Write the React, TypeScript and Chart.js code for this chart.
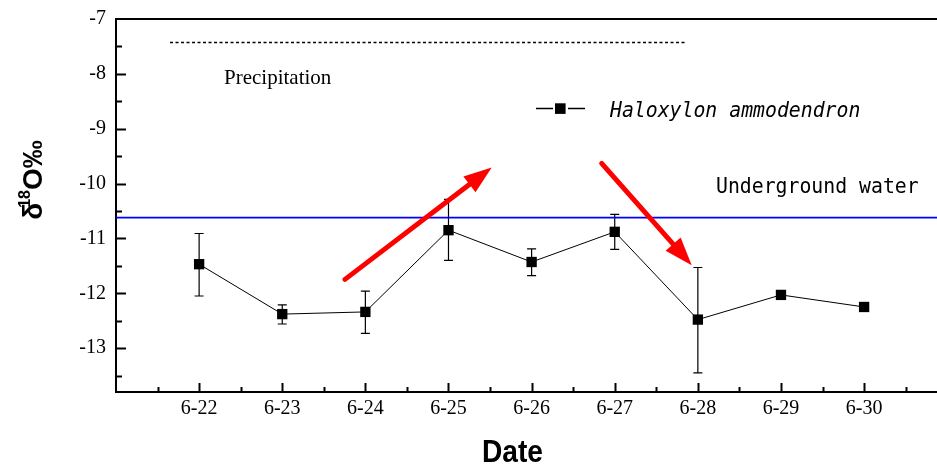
import React, { useEffect, useRef } from "react";
import { Chart, registerables } from "chart.js";

Chart.register(...registerables);

// ---- data ----
const dates = [22, 23, 24, 25, 26, 27, 28, 29, 30];
const dateLabels = ["6-22", "6-23", "6-24", "6-25", "6-26", "6-27", "6-28", "6-29", "6-30"];
const haloxylonValues = [-11.47, -12.38, -12.34, -10.85, -11.43, -10.88, -12.48, -12.03, -12.25];
const errorUpper = [-10.91, -12.21, -11.96, -10.29, -11.19, -10.56, -11.53, -11.97, -12.23];
const errorLower = [-12.05, -12.56, -12.73, -11.40, -11.68, -11.20, -13.45, -12.09, -12.27];
const undergroundWater = -10.62;
const undergroundSpan = [20.5, 31.5];
const precipitation = -7.43;
const precipitationSpan = [21.65, 27.86];
const yTickValues = [-7, -8, -9, -10, -11, -12, -13];
const yRange = [-13.8, -7];
const xRange = [21, 30.877];
const arrowUp = [[23.755, -11.747], [25.52, -9.705]];
const arrowDown = [[26.843, -9.632], [27.926, -11.487]];

const SERIES_NAME = "Haloxylon ammodendron";
const WATER_NAME = "Underground water";
const PRECIP_NAME = "Precipitation";

function drawScaledText(
  ctx: CanvasRenderingContext2D,
  text: string,
  x: number,
  y: number,
  font: string,
  sx: number,
  align: "left" | "center" = "left"
) {
  ctx.save();
  ctx.font = font;
  ctx.textBaseline = "alphabetic";
  ctx.textAlign = "left";
  const w = ctx.measureText(text).width * sx;
  const left = align === "center" ? x - w / 2 : x;
  ctx.translate(left, y);
  ctx.scale(sx, 1);
  ctx.fillText(text, 0, 0);
  ctx.restore();
}

const decorPlugin = {
  id: "decor",
  beforeDatasetsDraw(chart: any) {
    const ctx = chart.ctx as CanvasRenderingContext2D;
    const xs = chart.scales.x;
    const ys = chart.scales.y;
    ctx.save();
    ctx.strokeStyle = "#000";
    ctx.lineWidth = 1.2;
    dates.forEach((d, i) => {
      const px = xs.getPixelForValue(d);
      const pt = ys.getPixelForValue(errorUpper[i]);
      const pb = ys.getPixelForValue(errorLower[i]);
      ctx.beginPath();
      ctx.moveTo(px, pt);
      ctx.lineTo(px, pb);
      ctx.moveTo(px - 4.5, pt);
      ctx.lineTo(px + 4.5, pt);
      ctx.moveTo(px - 4.5, pb);
      ctx.lineTo(px + 4.5, pb);
      ctx.stroke();
    });
    ctx.restore();
  },
  afterDatasetsDraw(chart: any) {
    const ctx = chart.ctx as CanvasRenderingContext2D;
    const xs = chart.scales.x;
    const ys = chart.scales.y;
    const drawArrow = (a: number[][]) => {
      const x1 = xs.getPixelForValue(a[0][0]);
      const y1 = ys.getPixelForValue(a[0][1]);
      const x2 = xs.getPixelForValue(a[1][0]);
      const y2 = ys.getPixelForValue(a[1][1]);
      const ang = Math.atan2(y2 - y1, x2 - x1);
      const headLen = 28;
      const headHalf = 10;
      const bx = x2 - Math.cos(ang) * headLen;
      const by = y2 - Math.sin(ang) * headLen;
      ctx.save();
      ctx.strokeStyle = "#ff0000";
      ctx.fillStyle = "#ff0000";
      ctx.lineWidth = 5;
      ctx.lineCap = "round";
      ctx.beginPath();
      ctx.moveTo(x1, y1);
      ctx.lineTo(bx + Math.cos(ang) * 4, by + Math.sin(ang) * 4);
      ctx.stroke();
      ctx.beginPath();
      ctx.moveTo(x2, y2);
      ctx.lineTo(bx + Math.cos(ang + Math.PI / 2) * headHalf, by + Math.sin(ang + Math.PI / 2) * headHalf);
      ctx.lineTo(bx - Math.cos(ang + Math.PI / 2) * headHalf, by - Math.sin(ang + Math.PI / 2) * headHalf);
      ctx.closePath();
      ctx.fill();
      ctx.restore();
    };
    drawArrow(arrowUp);
    drawArrow(arrowDown);
  },
  afterDraw(chart: any) {
    const ctx = chart.ctx as CanvasRenderingContext2D;
    const xs = chart.scales.x;
    const ys = chart.scales.y;
    const area = chart.chartArea;
    ctx.save();
    ctx.strokeStyle = "#000";
    // top border
    ctx.lineWidth = 2;
    ctx.beginPath();
    ctx.moveTo(area.left - 1, area.top);
    ctx.lineTo(area.right, area.top);
    ctx.stroke();
    // inward ticks
    ctx.lineWidth = 2;
    for (let v = yRange[0]; v <= yRange[1] + 1e-6; v += 0.1) {
      const r = Math.round(v * 2) / 2;
      if (Math.abs(r - v) > 1e-6) continue;
      const len = Number.isInteger(r) ? 10 : 6;
      const py = Math.round(ys.getPixelForValue(r)) + 0.5;
      if (py < area.top + 1 || py > area.bottom - 1) continue;
      ctx.beginPath();
      ctx.moveTo(area.left, py);
      ctx.lineTo(area.left + len, py);
      ctx.stroke();
    }
    for (let v = Math.ceil(xRange[0] * 2) / 2; v <= xRange[1]; v += 0.5) {
      const px = Math.round(xs.getPixelForValue(v)) + 0.5;
      if (px < area.left + 2) continue;
      const len = Number.isInteger(v) ? 9 : 5;
      ctx.beginPath();
      ctx.moveTo(px, area.bottom);
      ctx.lineTo(px, area.bottom - len);
      ctx.stroke();
    }
    ctx.restore();

    ctx.save();
    ctx.fillStyle = "#000";
    // precipitation label
    drawScaledText(ctx, PRECIP_NAME, 224, 84, "21px 'Liberation Serif', serif", 1);
    // underground label
    drawScaledText(ctx, WATER_NAME, 716, 193, "22px 'DejaVu Sans Mono', monospace", 0.9);
    // legend
    ctx.strokeStyle = "#000";
    ctx.lineWidth = 1.3;
    ctx.beginPath();
    ctx.moveTo(536, 108.5);
    ctx.lineTo(553, 108.5);
    ctx.moveTo(568, 108.5);
    ctx.lineTo(585, 108.5);
    ctx.stroke();
    ctx.fillRect(555, 103.3, 10.6, 10.6);
    drawScaledText(ctx, SERIES_NAME, 610, 116.5, "italic 22px 'DejaVu Sans Mono', monospace", 0.9);
    // x title
    drawScaledText(ctx, "Date", 512.5, 461.5, "bold 32px 'Liberation Sans', Arial, sans-serif", 0.88, "center");
    // y title (rotated)
    ctx.save();
    ctx.translate(42, 180);
    ctx.rotate(-Math.PI / 2);
    const big = "bold 28px 'Liberation Sans', Arial, sans-serif";
    const small = "bold 16px 'Liberation Sans', Arial, sans-serif";
    ctx.textBaseline = "alphabetic";
    ctx.font = big;
    const wd = ctx.measureText("\u03b4").width;
    const wo = ctx.measureText("O\u2030").width;
    ctx.font = small;
    const w18 = ctx.measureText("18").width;
    const overlap = 5;
    const total = wd + w18 - overlap + wo;
    let cx = -total / 2;
    ctx.font = big;
    ctx.fillText("\u03b4", cx, 0);
    cx += wd - overlap;
    ctx.font = small;
    ctx.fillText("18", cx, -12);
    cx += w18;
    ctx.font = big;
    ctx.fillText("O\u2030", cx, 0);
    ctx.restore();
    ctx.restore();
  },
};

export default function App() {
  const ref = useRef<HTMLCanvasElement | null>(null);
  useEffect(() => {
    if (!ref.current) return;
    const chart = new Chart(ref.current, {
      type: "line",
      data: {
        datasets: [
          {
            label: WATER_NAME,
            data: undergroundSpan.map((x) => ({ x, y: undergroundWater })),
            borderColor: "#0000ff",
            borderWidth: 1.8,
            pointRadius: 0,
          },
          {
            label: PRECIP_NAME,
            data: precipitationSpan.map((x) => ({ x, y: precipitation })),
            borderColor: "#000",
            borderWidth: 1.5,
            borderDash: [3, 2.5],
            pointRadius: 0,
          },
          {
            label: SERIES_NAME,
            data: dates.map((d, i) => ({ x: d, y: haloxylonValues[i] })),
            borderColor: "#000",
            borderWidth: 1,
            tension: 0,
            pointStyle: "rect",
            pointRadius: 7.3,
            pointBackgroundColor: "#000",
            pointBorderWidth: 0,
          },
        ],
      } as any,
      options: {
        animation: false,
        responsive: false,
        layout: { autoPadding: false, padding: { top: 19, left: 0, right: 0, bottom: 0 } },
        plugins: { legend: { display: false }, tooltip: { enabled: false } },
        scales: {
          x: {
            type: "linear",
            min: xRange[0],
            max: xRange[1],
            grid: { display: false, drawTicks: false },
            border: { display: true, color: "#000", width: 2 },
            ticks: {
              color: "#000",
              padding: 5,
              font: { family: "'Liberation Serif', serif", size: 20 },
              callback: (v: any) => {
                const i = dates.indexOf(Number(v));
                return i >= 0 ? dateLabels[i] : "";
              },
            },
            afterBuildTicks: (s: any) => {
              s.ticks = dates.map((v) => ({ value: v }));
            },
            afterFit: (s: any) => {
              s.height = 74;
              s.paddingLeft = 0;
              s.paddingRight = 0;
            },
          },
          y: {
            type: "linear",
            min: yRange[0],
            max: yRange[1],
            grid: { display: false, drawTicks: false },
            border: { display: true, color: "#000", width: 2 },
            ticks: {
              color: "#000",
              padding: 10,
              font: { family: "'Liberation Serif', serif", size: 20 },
              callback: (v: any) => String(v),
            },
            afterBuildTicks: (s: any) => {
              s.ticks = yTickValues.map((v) => ({ value: v }));
            },
            afterFit: (s: any) => {
              s.width = 116;
              s.paddingTop = 0;
              s.paddingBottom = 0;
            },
          },
        },
      } as any,
      plugins: [decorPlugin],
    });
    return () => chart.destroy();
  }, []);
  return (
    <div style={{ position: "absolute", left: 0, top: 0, width: 937, height: 466, background: "#fff" }}>
      <canvas ref={ref} width={937} height={466} style={{ display: "block" }} />
    </div>
  );
}
